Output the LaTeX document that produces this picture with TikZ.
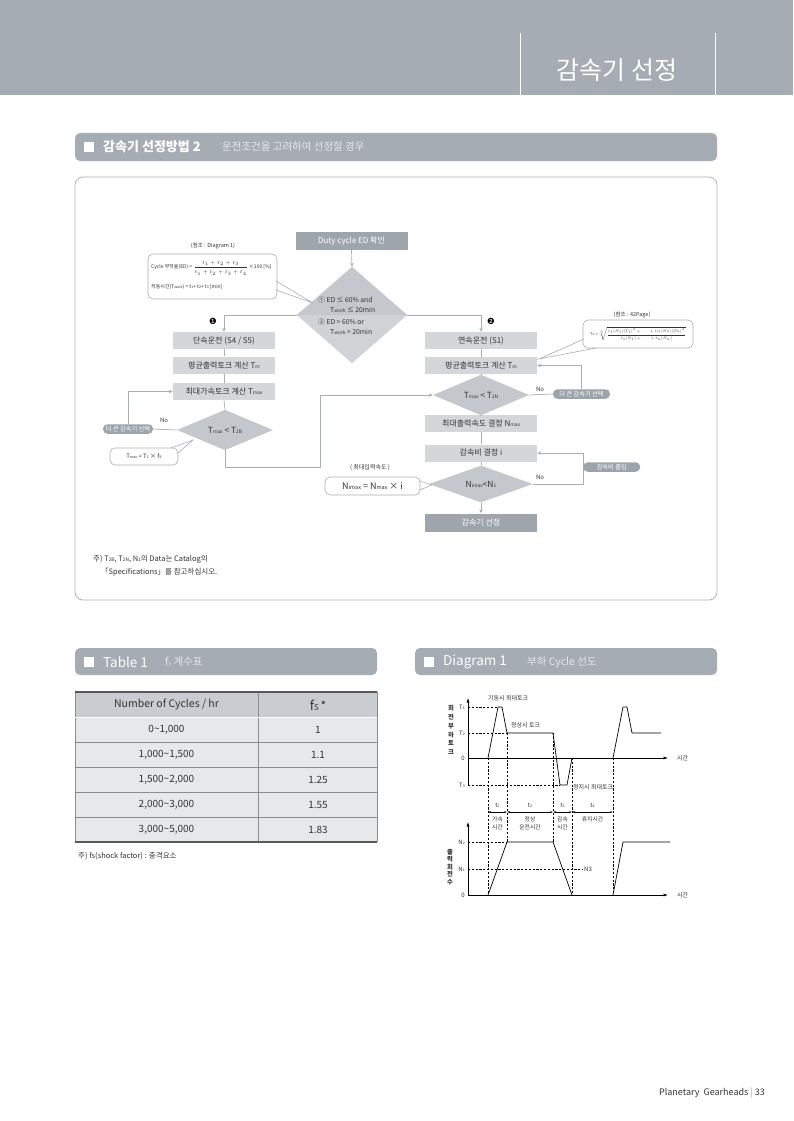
\documentclass[tikz,border=0pt]{standalone}
\usepackage{fontspec}
\setmainfont{Noto Sans CJK KR}
\newfontfamily\dv{DejaVu Sans}
\usetikzlibrary{arrows.meta,shapes.geometric,calc}
\definecolor{hdr}{HTML}{A5ACB3}
\definecolor{lbox}{HTML}{D4D7DA}
\definecolor{diaA}{HTML}{C4C8CD}
\definecolor{diaB}{HTML}{CFD3D6}
\definecolor{dbox}{HTML}{9EA5AC}
\definecolor{pillc}{HTML}{9BA3AB}
\definecolor{lnc}{HTML}{A9AEB3}
\definecolor{txt}{HTML}{333333}
\definecolor{subt}{HTML}{E6E8EB}
\definecolor{thead}{HTML}{C9CDD1}
\definecolor{tbody}{HTML}{E6E8EA}
\definecolor{tline}{HTML}{8C8C8C}
\newcommand\fs[2]{\fontsize{#1}{#2}\selectfont}
\newcommand\sml[1]{{\fontsize{4.8}{5}\selectfont #1}}
\newcommand\ssml[1]{{\fontsize{3.6}{4}\selectfont #1}}
\newcommand\smb[1]{{\fontsize{5.5}{6}\selectfont #1}}
\begin{document}
\begin{tikzpicture}[x=1pt,y=-1pt,
  lb/.style={rectangle,fill=lbox,minimum width=102pt,minimum height=17pt,inner sep=0pt,font=\fs{8}{9},text=txt},
  rb/.style={lb,minimum width=112pt},
  db/.style={rectangle,fill=dbox,text=white,minimum height=18pt,inner sep=0pt,font=\fs{8}{9}},
  dm/.style={diamond,fill=diaA,inner sep=0pt,font=\fs{8.5}{9},text=txt},
  pill/.style={rectangle,rounded corners=4.5pt,fill=pillc,text=white,font=\fs{6.2}{7},minimum height=9.5pt,inner sep=0pt},
  cl/.style={draw=lnc,line width=0.6pt,rounded corners=5pt,fill=white,inner sep=0pt},
  ln/.style={draw=lnc,line width=0.7pt},
  ar/.style={ln,-{Stealth[length=4pt,width=3.5pt]}},
  lab/.style={font=\fs{6}{7},text=txt,inner sep=0pt},
  dsh/.style={dash pattern=on 2.2pt off 1.6pt,line width=0.5pt},
  ax/.style={line width=0.6pt,-{Latex[length=4.5pt,width=3pt]}},
  cv/.style={line width=0.7pt,line join=round},
  tl/.style={font=\fs{6}{7.5},inner sep=0pt,text=txt},
  dbl/.style={line width=0.5pt,{Latex[length=2.5pt,width=2pt]}-{Latex[length=2.5pt,width=2pt]}},
]
\useasboundingbox (0,0) rectangle (793,1121);
\fill[white] (0,0) rectangle (793,1121);
% ---------- header
\fill[hdr] (0,0) rectangle (793,95);
\draw[white,line width=0.8pt] (520,33)--(520,95) (715,33)--(715,95);
\node[text=white,font=\fs{25}{28},inner sep=0] (title) at (617,70) {감속기 선정};
% ---------- section bar
\fill[hdr,rounded corners=5pt] (75,133) rectangle (717,161);
\fill[white] (84,142) rectangle (94,152);
\node[anchor=west,text=white,font=\fs{13}{15}\bfseries,inner sep=0] (s1) at (103,147) {감속기 선정방법 2};
\node[anchor=west,text=subt,font=\fs{10.5}{12},inner sep=0] (s2) at (222,147) {운전조건을 고려하여 선정할 경우};
% ---------- frame
\draw[draw=lnc,line width=0.7pt,rounded corners=8pt] (75,177) rectangle (717,600);

% ---------- flowchart nodes
\node[db,minimum width=112pt] (duty) at (351.5,241) {Duty cycle ED 확인};
\node[diamond,minimum width=110pt,minimum height=96pt,inner sep=0pt] (ed) at (352,315) {};
\fill[diaA] (ed.west)--(ed.north)--(ed.east)--cycle;
\fill[diaB] (ed.west)--(ed.south)--(ed.east)--cycle;
\node[anchor=west,align=left,font=\fs{6.8}{10},text=txt,inner sep=0] (e1) at (318,305) {① ED ≤ 60\% and\\\hspace{12pt}T\sml{work} ≤ 20min};
\node[anchor=west,align=left,font=\fs{6.8}{10},text=txt,inner sep=0] (e2) at (318,327) {② ED > 60\% or\\\hspace{12pt}T\sml{work} > 20min};

\node[lb] (b1) at (224,340.5) {단속운전 (S4 / S5)};
\node[lb] (b2) at (224,365) {평균출력토크 계산 T\sml{m}};
\node[lb] (b3) at (224,391.5) {최대가속토크 계산 T\sml{max}};
\node[dm,minimum width=96pt,minimum height=30pt] (d1) at (225,430) {T\sml{max} < T\sml{2B}};
\node[pill,minimum width=50pt] (p1) at (128,429) {더 큰 감속기 선택};

\node[rb] (r1) at (481,340.5) {연속운전 (S1)};
\node[rb] (r2) at (481,365.5) {평균출력토크 계산 T\sml{m}};
\node[dm,minimum width=96pt,minimum height=28pt] (d2) at (481,395) {T\sml{max} < T\sml{2N}};
\node[rb] (r3) at (481,423.5) {최대출력속도 결정 N\sml{max}};
\node[rb] (r4) at (481,453) {감속비 결정 i};
\node[dm,minimum width=104pt,minimum height=30pt] (d3) at (481,484) {N\sml{imax}<N\sml{1}};
\node[db,minimum width=112pt] (fin) at (481,522.5) {감속기 선정};
\node[pill,minimum width=57pt] (p2) at (581.5,394) {더 큰 감속기 선택};

\node[font=\dv\fs{8.5}{9},text=black,inner sep=0] (m1) at (213,321) {❶};
\node[font=\dv\fs{8.5}{9},text=black,inner sep=0] (m2) at (491,321) {❷};
\node[lab] (no1) at (164,420) {No};
\node[lab] (no2) at (540,389) {No};
\node[lab] (no3) at (540,477) {No};

% ---------- connectors
\draw[ar] (duty.south) -- (ed.north);
\draw[ar] (ed.west) -| (b1.north);
\draw[ar] (ed.east) -| (r1.north);
\draw[ln] (b1.south) -- (b2.north);
\draw[ln] (b2.south) -- (b3.north);
\draw[ln] (b3.south) -- (d1.north);
\draw[ln] (d1.west) -- (p1.east);
\draw[ar] (p1.north) |- (b3.west);
\coordinate (k1) at (320,467);
\draw[ar] (d1.south) |- (k1) |- (d2.west);
\draw[ln] (r1.south) -- (r2.north);
\draw[ln] (r2.south) -- (d2.north);
\draw[ln] (d2.south) -- (r3.north);
\draw[ln] (r3.south) -- (r4.north);
\draw[ln] (r4.south) -- (d3.north);
\draw[ar] (d3.south) -- (fin.north);
\draw[ln] (d2.east) -- (p2.west);
\draw[ar] (p2.north) |- (r2.east);
\coordinate (k2) at (583,453);
\draw[ar] (d3.east) -| (k2) -- (r4.east);
\node[pill,minimum width=57pt,anchor=west] (p3) at (583,467) {감속비 줄임};

% ---------- callouts
\node[lab,font=\fs{5.5}{6}] (ref1) at (213,246) {(참조 : Diagram 1)};
\node[cl,minimum width=129pt,minimum height=45pt] (cb1) at (212.5,276.5) {};
\draw[lnc,line width=0.6pt] (276,281)--(313,303)--(276,290);
\node[anchor=west,font=\fs{5}{6},text=txt,inner sep=0] (f1) at (151,268) {Cycle 부하율(ED) = $\displaystyle\frac{t_1+t_2+t_3}{t_1+t_2+t_3+t_4}$ ×100 [\%]};
\node[anchor=west,font=\fs{5}{6},text=txt,inner sep=0] (f2) at (151,287) {작동시간(T\ssml{work}) = t\ssml{1}+ t\ssml{2}+ t\ssml{3} [min]};

\node[lab,font=\fs{5.5}{6}] (ref2) at (632,315) {(참조 : 42Page)};
\node[cl,minimum width=110pt,minimum height=28pt] (cb2) at (638,334) {};
\draw[lnc,line width=0.6pt] (584,339)--(539,359)--(596,348);
\node[font=\fs{5}{6},text=txt,inner sep=0,scale=0.74] (f3) at (638,334) {T\ssml{m} = $\sqrt[3]{\displaystyle\frac{t_1|N_1||T_1|^3+\cdots+t_n|N_n||T_n|^3}{t_1|N_1|+\cdots+t_n|N_n|}}$};

\node[cl,minimum width=68pt,minimum height=17pt] (cb3) at (144,456.5) {};
\draw[lnc,line width=0.6pt] (171,448)--(193,440)--(178,453);
\node[font=\fs{6}{7},text=txt,inner sep=0] (f4) at (144,456.5) {T\ssml{max} = T\ssml{1} × f\ssml{S}};

\node[lab] (ref3) at (370,468) {( 최대입력속도 )};
\node[cl,minimum width=95pt,minimum height=18pt] (cb4) at (372.5,486) {};
\draw[lnc,line width=0.6pt] (420,481)--(432,485)--(420,490);
\node[font=\fs{9}{10},text=txt,inner sep=0] (f5) at (372.5,486) {N\smb{imax} = N\smb{max} × i};

% ---------- note
\node[anchor=west,font=\fs{7.5}{9},text=txt,inner sep=0] (n1) at (93,559) {주) T\sml{2B}, T\sml{2N}, N\sml{1}의 Data는 Catalog의};
\node[anchor=west,font=\fs{7.5}{9},text=txt,inner sep=0] (n2) at (101,572) {「Specifications」를 참고하십시오.};

% ---------- Table 1 bar
\fill[hdr,rounded corners=5pt] (75,648) rectangle (377,675);
\fill[white] (84,657) rectangle (94,667);
\node[anchor=west,text=white,font=\fs{13.5}{15},inner sep=0] (t1) at (103,662) {Table 1};
\node[anchor=west,text=subt,font=\fs{10.5}{12},inner sep=0] (t2) at (165,662) {f\smb{s} 계수표};
% ---------- table
\fill[thead] (75,692) rectangle (377,717);
\fill[tbody] (75,717) rectangle (377,842);
\foreach \yy in {742,767,792,817} \draw[tline,line width=0.5pt] (75,\yy)--(377,\yy);
\draw[tline,line width=0.5pt] (258,692)--(258,842) (75,692)--(75,842) (377,692)--(377,842);
\draw[white,line width=0.8pt] (75,717.5)--(377,717.5);
\draw[black!65,line width=1.1pt] (75,692)--(377,692) (75,842)--(377,842);
\node[font=\fs{10.5}{12},text=txt,inner sep=0] (h1) at (166.5,704.5) {Number of Cycles / hr};
\node[text=txt,inner sep=0] (h2) at (318,705) {{\fs{13}{13}f}{\fs{8}{8}S}\,{\fs{12}{12}*}};
\node[font=\fs{10}{12},text=txt,inner sep=0] (c11) at (166.5,729.5) {0\textasciitilde1,000};
\node[font=\fs{10}{12},text=txt,inner sep=0] (c12) at (318,729.5) {1};
\node[font=\fs{10}{12},text=txt,inner sep=0] (c21) at (166.5,754.5) {1,000\textasciitilde1,500};
\node[font=\fs{10}{12},text=txt,inner sep=0] (c22) at (318,754.5) {1.1};
\node[font=\fs{10}{12},text=txt,inner sep=0] (c31) at (166.5,779.5) {1,500\textasciitilde2,000};
\node[font=\fs{10}{12},text=txt,inner sep=0] (c32) at (318,779.5) {1.25};
\node[font=\fs{10}{12},text=txt,inner sep=0] (c41) at (166.5,804.5) {2,000\textasciitilde3,000};
\node[font=\fs{10}{12},text=txt,inner sep=0] (c42) at (318,804.5) {1.55};
\node[font=\fs{10}{12},text=txt,inner sep=0] (c51) at (166.5,829.5) {3,000\textasciitilde5,000};
\node[font=\fs{10}{12},text=txt,inner sep=0] (c52) at (318,829.5) {1.83};
\node[anchor=west,font=\fs{7.5}{9},text=txt,inner sep=0] (tn) at (78,856) {주) fs(shock factor) : 충격요소};

% ---------- Diagram 1 bar
\fill[hdr,rounded corners=5pt] (415,648) rectangle (717,675);
\fill[white] (424,657) rectangle (434,667);
\node[anchor=west,text=white,font=\fs{13.5}{15},inner sep=0] (g1) at (443,662) {Diagram 1};
\node[anchor=west,text=subt,font=\fs{10.5}{12},inner sep=0] (g2) at (527,662) {부하 Cycle 선도};

% ---------- Diagram 1 graphs
\draw[ax] (468,785) -- (468,698);
\draw[ax] (468,758) -- (668,758);
\node[tl,anchor=west] (xt1) at (677,758) {시간};
\node[tl,align=center,font=\fs{6.3}{8.7}\bfseries] (yl1) at (451,730) {회\\전\\부\\하\\토\\크};
\node[tl,anchor=east] (lT1) at (465,707) {T\ssml{1}};
\node[tl,anchor=east] (lT2) at (465,733) {T\ssml{2}};
\node[tl,anchor=east] (l0a) at (465,758) {0};
\node[tl,anchor=east] (lT3) at (465,785) {T\ssml{3}};
\draw[dsh] (468,707)--(498,707) (468,733)--(507,733) (468,785)--(560,785);
\draw[cv] (488,758)--(498,707)--(502,707)--(507,733)--(553,733)--(560,785)--(567,785)--(572,758);
\draw[cv] (613,758)--(623,707)--(627,707)--(632,733)--(661,733);
\node[tl,anchor=west] (a1) at (488,698) {기동시 최대토크};
\node[tl,anchor=west] (a2) at (511,725) {정상시 토크};
\node[tl,anchor=west] (a3) at (573,787) {정지시 최대토크};
\draw[dsh] (488,758)--(488,895) (507,733)--(507,842) (553,733)--(553,842) (572,758)--(572,895) (613,758)--(613,895);
\draw[dbl] (488,812)--(507,812);
\draw[dbl] (507,812)--(553,812);
\draw[dbl] (553,812)--(572,812);
\draw[dbl] (572,812)--(613,812);
\node[tl] (tt1) at (497.5,805) {t\ssml{1}};
\node[tl] (tt2) at (530,805) {t\ssml{2}};
\node[tl] (tt3) at (562.5,805) {t\ssml{3}};
\node[tl] (tt4) at (592.5,805) {t\ssml{4}};
\node[tl,align=center,font=\fs{5.8}{8}] (dd1) at (497.5,823) {가속\\시간};
\node[tl,align=center,font=\fs{5.8}{8}] (dd2) at (530,823) {정상\\운전시간};
\node[tl,align=center,font=\fs{5.8}{8}] (dd3) at (562.5,823) {감속\\시간};
\node[tl,font=\fs{5.8}{8}] (dd4) at (592.5,819) {휴지시간};
\draw[ax] (468,895) -- (468,822);
\draw[ax] (468,895) -- (668,895);
\node[tl,anchor=west] (xt2) at (677,895) {시간};
\node[tl,align=center,font=\fs{6.3}{7.6}\bfseries] (yl2) at (450,867) {출\\력\\회\\전\\수};
\node[tl,anchor=east] (lN2) at (465,842) {N\ssml{2}};
\node[tl,anchor=east] (lN1) at (465,869) {N\ssml{1}};
\node[tl,anchor=east] (l0b) at (465,895) {0};
\draw[dsh] (468,842)--(507,842) (468,869)--(583,869);
\node[tl,anchor=west] (n3) at (584,869) {N3};
\draw[cv] (488,895)--(507,842)--(553,842)--(572,895);
\draw[cv] (613,895)--(623,842)--(670,842);

% ---------- footer
\node[anchor=east,font=\fs{9}{10},text=txt,inner sep=0] (foot) at (765,1093) {Planetary\ \ Gearheads {\color{lnc}|} 33};
\end{tikzpicture}
\end{document}
